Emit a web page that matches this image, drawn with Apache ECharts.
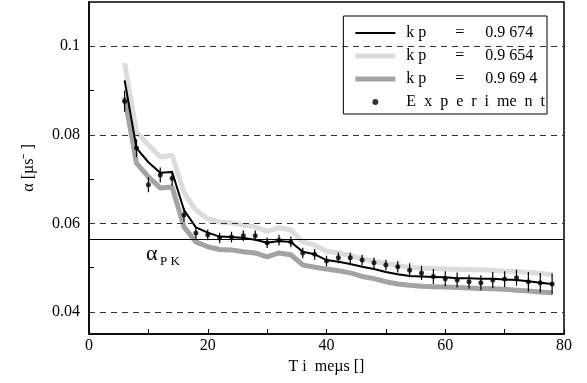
<!DOCTYPE html>
<html>
<head>
<meta charset="utf-8">
<script src="https://cdn.jsdelivr.net/npm/echarts@6/dist/echarts.min.js"></script>
<style>
  html, body { margin: 0; padding: 0; background: #fff; }
  #chart { width: 587px; height: 383px; }
</style>
</head>
<body>
<div id="chart"></div>
<script>
// time points (µs)
const times = [6, 8, 10, 12, 14, 16, 18, 20, 22, 24, 26, 28, 30, 32, 34, 36, 38, 40, 42,
  44, 46, 48, 50, 52, 54, 56, 58, 60, 62, 64, 66, 68, 70, 72, 74, 76, 78];

// experiment values and error half-widths
const expValues = [0.0876, 0.0770, 0.0687, 0.0709, 0.0702, 0.0619, 0.0578, 0.0574, 0.0567, 0.0569,
  0.0572, 0.0572, 0.0556, 0.0562, 0.0558, 0.0533, 0.0530, 0.0515, 0.0522, 0.0522,
  0.0517, 0.0511, 0.0506, 0.0502, 0.0494, 0.0488, 0.0480, 0.0475, 0.0472, 0.0468,
  0.0466, 0.0472, 0.0474, 0.0477, 0.0468, 0.0466, 0.0463];
const expErrors = [0.0024, 0.0020, 0.0017, 0.0017, 0.0017, 0.0015, 0.0013, 0.0012, 0.0012, 0.0012,
  0.0012, 0.0012, 0.0012, 0.0012, 0.0012, 0.0012, 0.0012, 0.0012, 0.0012, 0.0012,
  0.0012, 0.0012, 0.0012, 0.0013, 0.0016, 0.0016, 0.0017, 0.0017, 0.0017, 0.0016,
  0.0017, 0.0018, 0.0018, 0.0018, 0.0022, 0.0022, 0.0024];

// model curves
const kp9674 = [0.0923, 0.0770, 0.0738, 0.0714, 0.0716, 0.0630, 0.0591, 0.0579, 0.0570, 0.0569,
  0.0567, 0.0563, 0.0556, 0.0560, 0.0558, 0.0536, 0.0530, 0.0517, 0.0513, 0.0508,
  0.0502, 0.0497, 0.0490, 0.0485, 0.0481, 0.0480, 0.0479, 0.0478, 0.0476, 0.0476,
  0.0475, 0.0475, 0.0473, 0.0472, 0.0469, 0.0466, 0.0463];
const kp9654 = [0.0962, 0.0806, 0.0777, 0.0750, 0.0754, 0.0669, 0.0630, 0.0610, 0.0603, 0.0601,
  0.0596, 0.0592, 0.0582, 0.0590, 0.0585, 0.0558, 0.0551, 0.0537, 0.0533, 0.0527,
  0.0520, 0.0514, 0.0510, 0.0505, 0.0500, 0.0499, 0.0498, 0.0497, 0.0496, 0.0495,
  0.0495, 0.0494, 0.0492, 0.0491, 0.0489, 0.0487, 0.0484];
const kp9694 = [0.0885, 0.0736, 0.0705, 0.0680, 0.0682, 0.0592, 0.0558, 0.0547, 0.0541, 0.0540,
  0.0536, 0.0533, 0.0524, 0.0533, 0.0529, 0.0506, 0.0501, 0.0497, 0.0493, 0.0488,
  0.0480, 0.0475, 0.0468, 0.0463, 0.0460, 0.0458, 0.0457, 0.0456, 0.0455, 0.0454,
  0.0453, 0.0452, 0.0451, 0.0449, 0.0447, 0.0445, 0.0443];

const yLabelValues = [0.04, 0.06, 0.08, 0.1];
const yTickValues = [0.04, 0.05, 0.06, 0.07, 0.08, 0.09, 0.1];
const dashedLevels = [0.04, 0.06, 0.08, 0.1];
const alphaPK = 0.0564;

const legendLabels = {
  'kp1': '{a|k p}{b|=}{c|0.9 674}',
  'kp2': '{a|k p}{b|=}{c|0.9 654}',
  'kp3': '{a|k p}{b|=}{c|0.9 69 4}',
  'exp': '{a|E  x  p  e  r  i  me  n  t}'
};

const serif = "'Liberation Serif', 'Times New Roman', serif";
const pairs = vals => times.map((t, i) => [t, vals[i]]);

const chart = echarts.init(document.getElementById('chart'));

const option = {
  backgroundColor: '#fff',
  animation: false,
  textStyle: { fontFamily: serif },
  grid: {
    left: 89, right: 23, top: 2, bottom: 49,
    show: true, borderColor: '#000', borderWidth: 1.5, backgroundColor: 'transparent'
  },
  legend: {
    right: 40, top: 16,
    orient: 'vertical',
    align: 'left',
    backgroundColor: '#fff',
    borderColor: '#000', borderWidth: 1,
    padding: [9, 2, 4, 12],
    itemWidth: 40, itemHeight: 6, itemGap: 7,
    data: [
      { name: 'kp1', icon: 'path://M0,0 H40 V2 H0 Z' },
      { name: 'kp2', icon: 'path://M0,0 H40 V5 H0 Z' },
      { name: 'kp3', icon: 'path://M0,0 H40 V5 H0 Z' },
      { name: 'exp', icon: 'circle' }
    ],
    formatter: name => legendLabels[name],
    textStyle: {
      fontFamily: serif, fontSize: 16, color: '#000', lineHeight: 16,
      padding: [0, 0, 0, 6],
      rich: {
        a: { fontFamily: serif, fontSize: 16, width: 49 },
        b: { fontFamily: serif, fontSize: 16, width: 30 },
        c: { fontFamily: serif, fontSize: 16 }
      }
    }
  },
  xAxis: {
    type: 'value', min: 0, max: 80, interval: 10,
    name: 'T i  meµs []', nameLocation: 'middle', nameGap: 24,
    nameTextStyle: { fontFamily: serif, fontSize: 16, color: '#000' },
    axisLine: { lineStyle: { color: '#000', width: 1.5 } },
    axisTick: { inside: true, length: 5, lineStyle: { color: '#000' } },
    axisLabel: {
      fontFamily: serif, fontSize: 16, color: '#000', margin: 4,
      formatter: v => (v % 20 === 0 ? String(v) : '')
    },
    splitLine: { show: false }
  },
  yAxis: {
    type: 'value', min: 0.035, max: 0.11,
    name: 'α [µs⁻ ]', nameLocation: 'middle', nameGap: 52,
    nameTextStyle: { fontFamily: serif, fontSize: 16, color: '#000' },
    axisLine: { lineStyle: { color: '#000', width: 1.5 } },
    axisTick: { inside: true, length: 5, customValues: yTickValues, lineStyle: { color: '#000' } },
    axisLabel: {
      fontFamily: serif, fontSize: 16, color: '#000', margin: 9,
      customValues: yLabelValues,
      formatter: v => String(+v.toFixed(3))
    },
    splitLine: { show: false }
  },
  series: [
    {
      name: 'kp2', type: 'line', data: pairs(kp9654), showSymbol: false, symbol: 'none',
      lineStyle: { color: '#dcdcdc', width: 5 }, itemStyle: { color: '#dcdcdc' }, z: 2,
      markLine: {
        silent: true, symbol: ['none', 'none'], label: { show: false }, precision: 5,
        lineStyle: { color: '#333', type: [6, 5], width: 1 },
        data: dashedLevels.map(v => ({ yAxis: v }))
      }
    },
    {
      name: 'kp3', type: 'line', data: pairs(kp9694), showSymbol: false, symbol: 'none',
      lineStyle: { color: '#a3a3a3', width: 5 }, itemStyle: { color: '#a3a3a3' }, z: 3,
      markLine: {
        silent: true, symbol: ['none', 'none'], label: { show: false }, precision: 5,
        lineStyle: { color: '#000', type: 'solid', width: 1.2 },
        data: [{ yAxis: alphaPK }]
      }
    },
    {
      name: 'kp1', type: 'line', data: pairs(kp9674), showSymbol: false, symbol: 'none',
      lineStyle: { color: '#000', width: 2 }, itemStyle: { color: '#000' }, z: 4
    },
    {
      name: 'errbars', type: 'custom', z: 5,
      data: times.map((t, i) => [t, expValues[i], expErrors[i]]),
      renderItem: (params, api) => {
        const x = api.value(0), y = api.value(1), e = api.value(2);
        const p1 = api.coord([x, y - e]);
        const p2 = api.coord([x, y + e]);
        return {
          type: 'line',
          shape: { x1: p1[0], y1: p1[1], x2: p2[0], y2: p2[1] },
          style: { stroke: '#000', lineWidth: 1.2 }
        };
      }
    },
    {
      name: 'exp', type: 'scatter', data: pairs(expValues), symbolSize: 5,
      itemStyle: { color: '#000' }, z: 6
    }
  ],
  graphic: [
    { type: 'text', left: 146, top: 243, style: { text: 'α', fontFamily: serif, fontSize: 22, fill: '#000' } },
    { type: 'text', left: 160, top: 255, style: { text: 'P K', fontFamily: serif, fontSize: 13, fill: '#000' } }
  ]
};

chart.setOption(option);
</script>
</body>
</html>
